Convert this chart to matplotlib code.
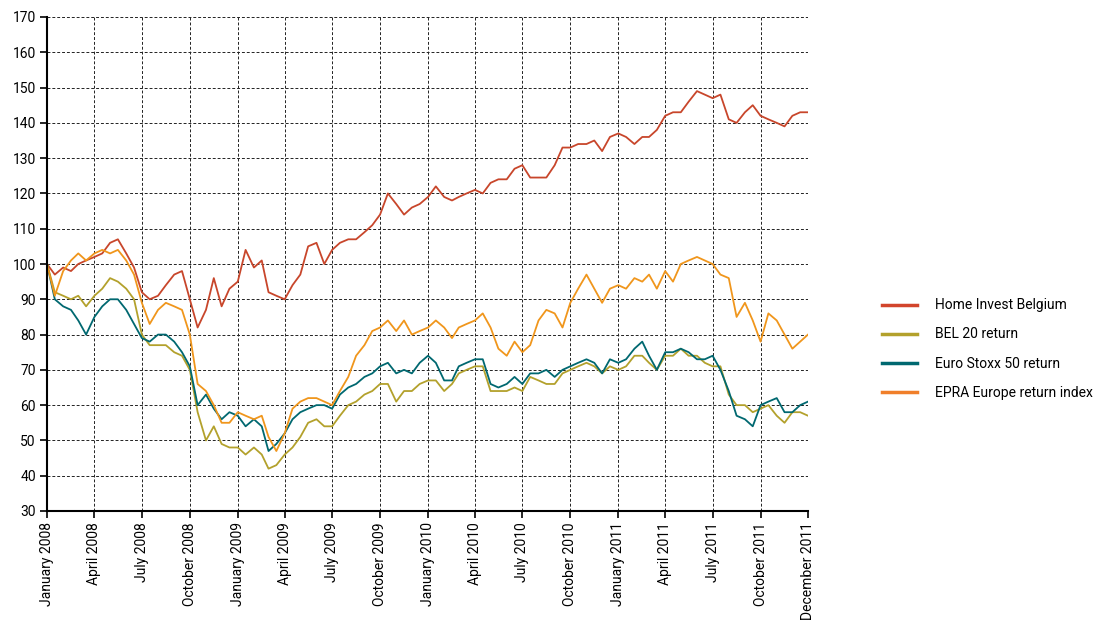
import matplotlib
matplotlib.use("Agg")
import matplotlib.pyplot as plt
import datetime as dt
from matplotlib.lines import Line2D
from matplotlib import font_manager

avail = {f.name for f in font_manager.fontManager.ttflist}
fam = [f for f in ['Liberation Sans Narrow', 'DejaVu Sans Condensed', 'Roboto', 'DejaVu Sans'] if f in avail]
plt.rcParams['font.family'] = fam

# semi-monthly observation dates (1st and 16th of each month) + year end
dates = []
for y in range(2008, 2012):
    for m in range(1, 13):
        dates.append(dt.date(y, m, 1))
        dates.append(dt.date(y, m, 16))
dates.append(dt.date(2011, 12, 31))

home_invest = [100, 97, 99, 98, 100, 101, 102, 103, 106, 107, 103, 99, 92, 90, 91, 94,
               97, 98, 90, 82, 87, 96, 88, 93, 95, 104, 99, 101, 92, 91, 90, 94,
               97, 105, 106, 100, 104, 106, 107, 107, 109, 111, 114, 120, 117, 114, 116, 117,
               119, 122, 119, 118, 119, 120, 121, 120, 123, 124, 124, 127, 128, 124.5, 124.5, 124.5,
               128, 133, 133, 134, 134, 135, 132, 136, 137, 136, 134, 136, 136, 138, 142, 143,
               143, 146, 149, 148, 147, 148, 141, 140, 143, 145, 142, 141, 140, 139, 142, 143, 143]

bel20 = [100, 92, 91, 90, 91, 88, 91, 93, 96, 95, 93, 90, 80, 77, 77, 77,
         75, 74, 70, 58, 50, 54, 49, 48, 48, 46, 48, 46, 42, 43, 46, 48,
         51, 55, 56, 54, 54, 57, 60, 61, 63, 64, 66, 66, 61, 64, 64, 66,
         67, 67, 64, 66, 69, 70, 71, 71, 64, 64, 64, 65, 64, 68, 67, 66,
         66, 69, 70, 71, 72, 71, 69, 71, 70, 71, 74, 74, 72, 70, 74, 74,
         76, 74, 74, 72, 71, 71, 63, 60, 60, 58, 59, 60, 57, 55, 58, 58, 57]

euro_stoxx = [100, 90, 88, 87, 84, 80, 85, 88, 90, 90, 87, 83, 79, 78, 80, 80,
              78, 75, 71, 60, 63, 59, 56, 58, 57, 54, 56, 54, 47, 49, 52, 56,
              58, 59, 60, 60, 59, 63, 65, 66, 68, 69, 71, 72, 69, 70, 69, 72,
              74, 72, 67, 67, 71, 72, 73, 73, 66, 65, 66, 68, 66, 69, 69, 70,
              68, 70, 71, 72, 73, 72, 69, 73, 72, 73, 76, 78, 74, 70, 75, 75,
              76, 75, 73, 73, 74, 70, 64, 57, 56, 54, 60, 61, 62, 58, 58, 60, 61]

epra = [100, 91, 98, 101, 103, 101, 103, 104, 103, 104, 101, 97, 89, 83, 87, 89,
        88, 87, 80, 66, 64, 60, 55, 55, 58, 57, 56, 57, 51, 47, 52, 59,
        61, 62, 62, 61, 60, 64, 68, 74, 77, 81, 82, 84, 81, 84, 80, 81,
        82, 84, 82, 79, 82, 83, 84, 86, 82, 76, 74, 78, 75, 77, 84, 87,
        86, 82, 89, 93, 97, 93, 89, 93, 94, 93, 96, 95, 97, 93, 98, 95,
        100, 101, 102, 101, 100, 97, 96, 85, 89, 84, 78, 86, 84, 80, 76, 78, 80]

series_names = ["Home Invest Belgium", "BEL 20 return", "Euro Stoxx 50 return",
                "EPRA Europe return index"]
colors = ["#c8462b", "#b3a12c", "#006870", "#f0961c"]
legend_colors = ["#d2452c", "#b3a12c", "#006870", "#f07f2a"]

tick_dates = [dt.date(2008, 1, 1), dt.date(2008, 4, 1), dt.date(2008, 7, 1), dt.date(2008, 10, 1),
              dt.date(2009, 1, 1), dt.date(2009, 4, 1), dt.date(2009, 7, 1), dt.date(2009, 10, 1),
              dt.date(2010, 1, 1), dt.date(2010, 4, 1), dt.date(2010, 7, 1), dt.date(2010, 10, 1),
              dt.date(2011, 1, 1), dt.date(2011, 4, 1), dt.date(2011, 7, 1), dt.date(2011, 10, 1),
              dt.date(2011, 12, 31)]
tick_labels = ["January 2008", "April 2008", "July 2008", "October 2008",
               "January 2009", "April 2009", "July 2009", "October 2009",
               "January 2010", "April 2010", "July 2010", "October 2010",
               "January 2011", "April 2011", "July 2011", "October 2011",
               "December 2011"]

fig = plt.figure(figsize=(11.02, 6.24), dpi=100)
ax = fig.add_axes([47/1102, 1 - 511/624, (808 - 47)/1102, (511 - 17)/624])

all_series = [home_invest, bel20, euro_stoxx, epra]
for vals, c in zip(all_series, colors):
    ax.plot(dates, vals, color=c, lw=1.3, solid_joinstyle='round')

ax.set_xlim(dt.date(2008, 1, 1), dt.date(2011, 12, 31))
ax.set_ylim(30, 170)
ax.set_yticks(range(30, 171, 10))
ax.set_xticks(tick_dates)
ax.set_xticklabels(tick_labels, rotation=90, fontsize=10)
ax.tick_params(axis='y', labelsize=10, length=5, width=1.2, direction='out', pad=3)
ax.tick_params(axis='x', length=5, width=1.2, direction='out', pad=3)

ax.grid(True, color='#222222', linestyle=(0, (3, 2)), lw=0.7)
ax.set_axisbelow(True)
for s in ['top', 'right']:
    ax.spines[s].set_visible(False)
for s in ['left', 'bottom']:
    ax.spines[s].set_linewidth(1.5)

handles = [Line2D([0], [0], color=c, lw=2.5) for c in legend_colors]
fig.legend(handles, series_names, loc='center left', bbox_to_anchor=(876/1102, 1 - 349/624),
           frameon=False, fontsize=10, handlelength=2.55, handletextpad=1.3, labelspacing=1.08,
           borderaxespad=0)

fig.savefig("out.png", dpi=100)
